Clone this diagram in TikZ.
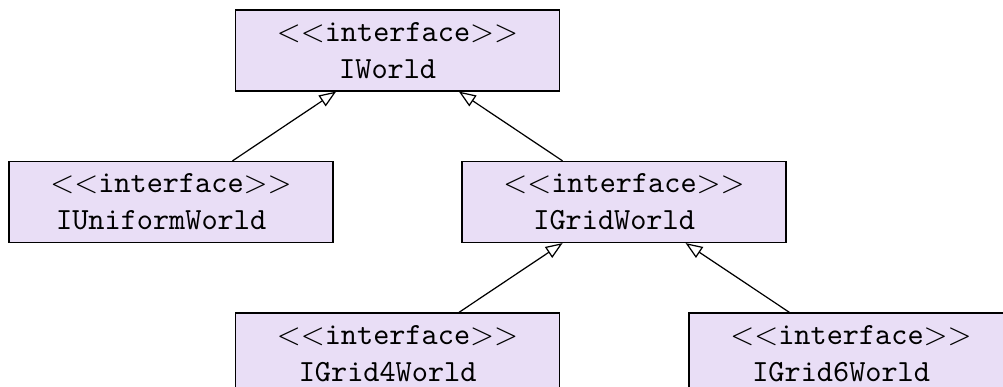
\documentclass[tikz,border=0pt]{standalone}
\usetikzlibrary{arrows.meta}
\definecolor{ifacefill}{RGB}{233,222,246}
\tikzset{
  iface/.style={draw=black, fill=ifacefill, line width=0.4pt,
    minimum width=105.3pt, minimum height=26.3pt, inner sep=0pt,
    align=center},
  realizes/.style={draw=black, line width=0.4pt,
    -{Triangle[open, length=5.5pt, width=4.2pt]}}
}
\newcommand{\ifacebox}[1]{$<<$\texttt{interface}$>>$\\\texttt{#1}\hspace*{6.4pt}}
\begin{document}
\begin{tikzpicture}[x=0.325pt, y=-0.325pt]
  \useasboundingbox (0,0) rectangle (1003,387);
  \node[iface] (world)   at (397.5,50.5) {\ifacebox{IWorld}};
  \node[iface] (uniform) at (171,202)    {\ifacebox{IUniformWorld}};
  \node[iface] (grid)    at (624,202)    {\ifacebox{IGridWorld}};
  \node[iface] (grid4)   at (397.5,353.5) {\ifacebox{IGrid4World}};
  \node[iface] (grid6)   at (851,353.5)  {\ifacebox{IGrid6World}};
  \draw[realizes] (uniform) -- (world);
  \draw[realizes] (grid) -- (world);
  \draw[realizes] (grid4) -- (grid);
  \draw[realizes] (grid6) -- (grid);
\end{tikzpicture}
\end{document}
